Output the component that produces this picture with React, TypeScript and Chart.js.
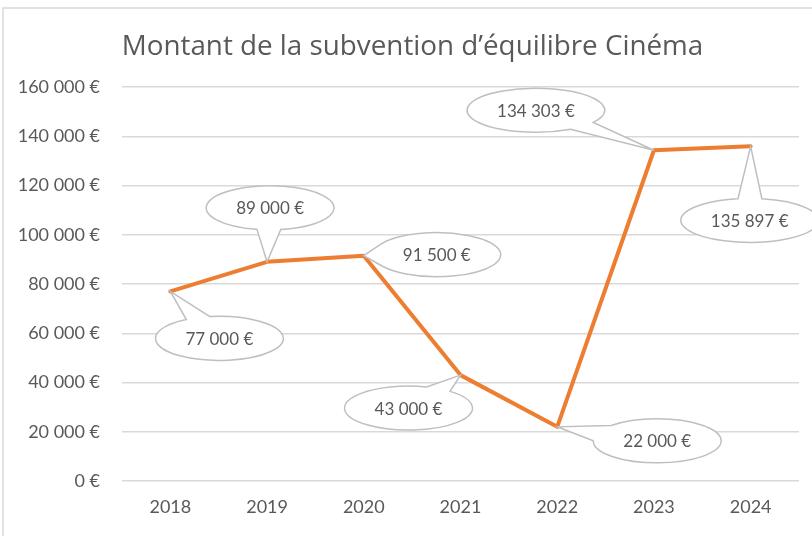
import React, { useEffect, useRef } from "react";
import { Chart, registerables } from "chart.js";

Chart.register(...registerables);

const years = ["2018", "2019", "2020", "2021", "2022", "2023", "2024"];
const amounts = [77000, 89000, 91500, 43000, 22000, 134303, 135897];
const yTicks = [0, 20000, 40000, 60000, 80000, 100000, 120000, 140000, 160000];
const chartTitle = "Montant de la subvention d\u2019\u00e9quilibre Cin\u00e9ma";

// callout placement relative to each point (style only)
const calloutOffsets: [number, number][] = [
  [49, 47],
  [3, -54],
  [73, -1],
  [-52, 33],
  [100, 14],
  [-118, -40],
  [-1, 74],
];

const TEXT = "#595959";
const FONT = "Lato";

function fmt(v: number): string {
  return String(v).replace(/\B(?=(\d{3})+(?!\d))/g, " ") + " \u20ac";
}

const framePlugin = {
  id: "frame",
  beforeDraw(chart: any) {
    const ctx = chart.ctx;
    ctx.save();
    ctx.fillStyle = "#ffffff";
    ctx.fillRect(0, 0, chart.width, chart.height);
    ctx.strokeStyle = "#d9d9d9";
    ctx.lineWidth = 1.5;
    ctx.strokeRect(3, 8, chart.width + 20, chart.height + 20);
    ctx.fillStyle = TEXT;
    ctx.font = `27.8px "Open Sans"`;
    ctx.textAlign = "center";
    ctx.textBaseline = "alphabetic";
    ctx.fillText(chartTitle, 412.5, 55);
    ctx.restore();
  },
};

const calloutPlugin = {
  id: "callouts",
  afterDatasetsDraw(chart: any) {
    const ctx = chart.ctx;
    const meta = chart.getDatasetMeta(0);
    ctx.save();
    ctx.font = `17px ${FONT}`;
    meta.data.forEach((pt: any, i: number) => {
      const tx = pt.x;
      const ty = pt.y;
      const [dx, dy] = calloutOffsets[i];
      const cx = tx + dx;
      const cy = ty + dy;
      const label = fmt(amounts[i]);
      const tw = ctx.measureText(label).width;
      const rx = tw / 2 + 30;
      const ry = 22;
      const a = Math.atan2((ty - cy) / ry, (tx - cx) / rx);
      const speed = Math.sqrt(rx * rx * Math.sin(a) ** 2 + ry * ry * Math.cos(a) ** 2);
      const d = 12 / speed;
      ctx.beginPath();
      ctx.ellipse(cx, cy, rx, ry, 0, a + d, a - d + Math.PI * 2);
      ctx.lineTo(tx, ty);
      ctx.closePath();
      ctx.fillStyle = "#ffffff";
      ctx.fill();
      ctx.strokeStyle = "#bfbfbf";
      ctx.lineWidth = 1.5;
      ctx.lineJoin = "miter";
      ctx.stroke();
      ctx.fillStyle = TEXT;
      ctx.textAlign = "center";
      ctx.textBaseline = "middle";
      ctx.fillText(label, cx, cy + 1);
    });
    ctx.restore();
  },
};

export default function App() {
  const ref = useRef<HTMLCanvasElement | null>(null);
  useEffect(() => {
    if (!ref.current) return;
    const chart = new Chart(ref.current, {
      type: "line",
      data: {
        labels: years,
        datasets: [
          {
            data: amounts,
            borderColor: "#ED7D31",
            backgroundColor: "#ED7D31",
            borderWidth: 4,
            pointRadius: 0,
            borderCapStyle: "round",
            borderJoinStyle: "round",
            tension: 0,
          },
        ],
      },
      options: {
        animation: false,
        responsive: false,
        maintainAspectRatio: false,
        layout: { padding: { top: 87, right: 13, bottom: 0, left: 0 } },
        plugins: {
          legend: { display: false },
          tooltip: { enabled: false },
          title: { display: false },
        },
        scales: {
          x: {
            offset: true,
            grid: { display: false, drawTicks: false },
            border: { display: false },
            ticks: {
              color: TEXT,
              font: { family: FONT, size: 18 },
              padding: 15,
              maxRotation: 0,
            },
            afterFit: (s: any) => {
              s.height = 55;
            },
          },
          y: {
            min: 0,
            max: 160000,
            afterBuildTicks: (s: any) => {
              s.ticks = yTicks.map((v) => ({ value: v }));
            },
            grid: { color: "#d9d9d9", lineWidth: 1.5, drawTicks: false },
            border: { display: false },
            ticks: {
              color: TEXT,
              font: { family: FONT, size: 18 },
              padding: 22,
              callback: (v: any) => fmt(Number(v)),
            },
            afterFit: (s: any) => {
              s.width = 122;
            },
          },
        },
      },
      plugins: [framePlugin, calloutPlugin],
    });
    return () => chart.destroy();
  }, []);
  return (
    <div style={{ position: "absolute", left: 0, top: 0, width: 812, height: 536 }}>
      <canvas ref={ref} width={812} height={536} style={{ width: 812, height: 536 }} />
    </div>
  );
}
